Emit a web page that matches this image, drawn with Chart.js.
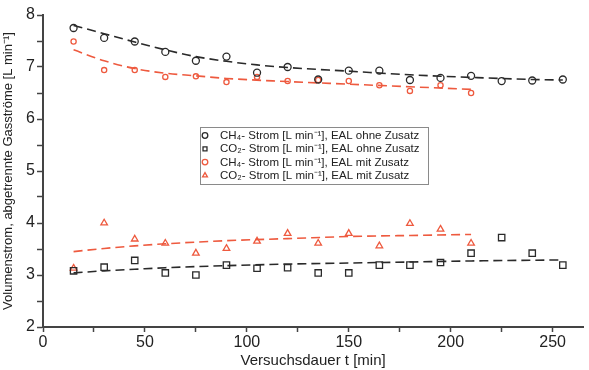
<!DOCTYPE html>
<html>
<head>
<meta charset="utf-8">
<script src="https://cdn.jsdelivr.net/npm/chart.js@4/dist/chart.umd.min.js"></script>
<style>
  html, body { margin: 0; padding: 0; background: #fff; }
  #wrap { position: relative; width: 589px; height: 370px; }
</style>
</head>
<body>
<div id="wrap"><canvas id="chart" width="589" height="370"></canvas></div>
<script>
// measured points, x = Versuchsdauer [min]
const timesLong  = [15, 30, 45, 60, 75, 90, 105, 120, 135, 150, 165, 180, 195, 210, 225, 240, 255];
const timesShort = [15, 30, 45, 60, 75, 90, 105, 120, 135, 150, 165, 180, 195, 210];

const ch4Ohne = [7.75, 7.56, 7.49, 7.29, 7.12, 7.2, 6.89, 7.0, 6.76, 6.93, 6.93, 6.75, 6.79, 6.83, 6.73, 6.74, 6.76];
const co2Ohne = [3.08, 3.15, 3.28, 3.04, 3.0, 3.19, 3.13, 3.14, 3.04, 3.04, 3.19, 3.19, 3.24, 3.42, 3.72, 3.42, 3.19];
const ch4Mit  = [7.49, 6.94, 6.94, 6.81, 6.82, 6.71, 6.81, 6.73, 6.75, 6.73, 6.65, 6.54, 6.65, 6.5];
const co2Mit  = [3.13, 4.0, 3.69, 3.61, 3.42, 3.51, 3.65, 3.8, 3.61, 3.8, 3.56, 3.99, 3.88, 3.61];

// fitted curves
const fitCh4OhneX = [15, 30, 45, 60, 75, 90, 105, 120, 150, 180, 210, 240, 255];
const fitCh4OhneY = [7.8, 7.64, 7.48, 7.33, 7.2, 7.11, 7.04, 6.99, 6.92, 6.85, 6.8, 6.76, 6.75];
const fitCh4MitX  = [15, 30, 45, 60, 75, 90, 120, 150, 180, 210];
const fitCh4MitY  = [7.33, 7.12, 6.97, 6.88, 6.83, 6.78, 6.72, 6.67, 6.62, 6.57];
const fitCo2OhneX = [15, 30, 45, 60, 90, 120, 150, 180, 210, 255];
const fitCo2OhneY = [3.04, 3.08, 3.11, 3.14, 3.18, 3.21, 3.23, 3.25, 3.27, 3.29];
const fitCo2MitX  = [15, 30, 45, 60, 90, 120, 150, 180, 210];
const fitCo2MitY  = [3.45, 3.51, 3.56, 3.6, 3.66, 3.7, 3.74, 3.76, 3.78];

// axis ticks (labelled ones every 50 min / 1 L min-1, minor ones in between)
const xTicks = [0, 25, 50, 75, 100, 125, 150, 175, 200, 225, 250];
const yTicks = [2, 2.5, 3, 3.5, 4, 4.5, 5, 5.5, 6, 6.5, 7, 7.5, 8];

const legendLabels = [
    'CH\u2084- Strom [L min\u207B\u00B9], EAL ohne Zusatz',
    'CO\u2082- Strom [L min\u207B\u00B9], EAL ohne Zusatz',
    'CH\u2084- Strom [L min\u207B\u00B9], EAL mit Zusatz',
    'CO\u2082- Strom [L min\u207B\u00B9], EAL mit Zusatz',
];

const BLACK = '#2a2a2a';
const RED = '#ee5a3f';
const FONT = '"Liberation Sans", Arial, sans-serif';

const pts = (xs, ys) => xs.map((x, i) => ({ x, y: ys[i] }));

function scatter(label, xs, ys, color, style, r) {
    return {
        type: 'scatter', label, data: pts(xs, ys),
        showLine: false, pointStyle: style, pointRadius: r,
        pointBorderColor: color, pointBackgroundColor: 'transparent',
        pointBorderWidth: 1.3, borderColor: color, inLegend: true,
    };
}

function fit(xs, ys, color) {
    return {
        type: 'line', data: pts(xs, ys), borderColor: color, borderWidth: 1.6,
        borderDash: [9, 5], pointRadius: 0, fill: false,
        cubicInterpolationMode: 'monotone',
    };
}

// legend box drawn inside the plot area
const boxLegend = {
    id: 'boxLegend',
    afterDraw(chart) {
        const { ctx } = chart;
        const x0 = 200, y0 = 127, w = 228, h = 57;
        ctx.save();
        ctx.fillStyle = '#fff';
        ctx.fillRect(x0, y0, w, h);
        ctx.strokeStyle = '#8a8a8a';
        ctx.lineWidth = 1;
        ctx.strokeRect(x0 + 0.5, y0 + 0.5, w, h);
        const ds = chart.data.datasets.filter(d => d.inLegend);
        ctx.font = '11.5px ' + FONT;
        ctx.textBaseline = 'middle';
        ds.forEach((d, i) => {
            const y = y0 + 8.5 + i * 13.3;
            ctx.strokeStyle = d.pointBorderColor;
            ctx.fillStyle = 'transparent';
            ctx.lineWidth = 1.3;
            Chart.helpers.drawPoint(ctx, { pointStyle: d.pointStyle, radius: 2.8, rotation: 0, borderWidth: 1.3 }, x0 + 5, y);
            ctx.fillStyle = '#222';
            ctx.fillText(legendLabels[i], x0 + 20, y + 0.5);
        });
        ctx.restore();
    },
};

new Chart(document.getElementById('chart'), {
    data: {
        datasets: [
            scatter(legendLabels[0], timesLong, ch4Ohne, BLACK, 'circle', 3.5),
            scatter(legendLabels[1], timesLong, co2Ohne, BLACK, 'rect', 4.5),
            scatter(legendLabels[2], timesShort, ch4Mit, RED, 'circle', 2.6),
            scatter(legendLabels[3], timesShort, co2Mit, RED, 'triangle', 3.8),
            fit(fitCh4OhneX, fitCh4OhneY, BLACK),
            fit(fitCh4MitX, fitCh4MitY, RED),
            fit(fitCo2OhneX, fitCo2OhneY, BLACK),
            fit(fitCo2MitX, fitCo2MitY, RED),
        ],
    },
    options: {
        responsive: false,
        animation: false,
        layout: { padding: { top: 15, right: 4, left: 0, bottom: 0 } },
        plugins: { legend: { display: false }, tooltip: { enabled: false } },
        scales: {
            x: {
                type: 'linear', min: 0, max: 265,
                afterBuildTicks: axis => { axis.ticks = xTicks.map(value => ({ value })); },
                afterFit: s => { s.height = 43; },
                ticks: {
                    color: '#222', padding: 1,
                    font: { family: FONT, size: 16 },
                    callback: v => (v % 50 === 0 ? v : ''),
                },
                grid: { drawOnChartArea: false, tickLength: 5, color: '#444', tickWidth: 1.5 },
                border: { color: '#444', width: 2 },
                title: { display: true, text: 'Versuchsdauer t [min]', color: '#222', font: { family: FONT, size: 15 }, padding: { top: 0, bottom: 0 } },
            },
            y: {
                min: 2, max: 8,
                afterBuildTicks: axis => { axis.ticks = yTicks.map(value => ({ value })); },
                afterFit: s => { s.width = 43; },
                ticks: {
                    color: '#222', padding: 2,
                    font: { family: FONT, size: 16 },
                    callback: v => (Number.isInteger(v) ? v : ''),
                },
                grid: { drawOnChartArea: false, tickLength: 6, color: '#444', tickWidth: 1.5 },
                border: { color: '#444', width: 2 },
                title: { display: true, text: 'Volumenstrom, abgetrennte Gasstr\u00F6me [L min\u207B\u00B9]', color: '#222', font: { family: FONT, size: 13 }, padding: { top: 1, bottom: 0 } },
            },
        },
    },
    plugins: [boxLegend],
});
</script>
</body>
</html>
